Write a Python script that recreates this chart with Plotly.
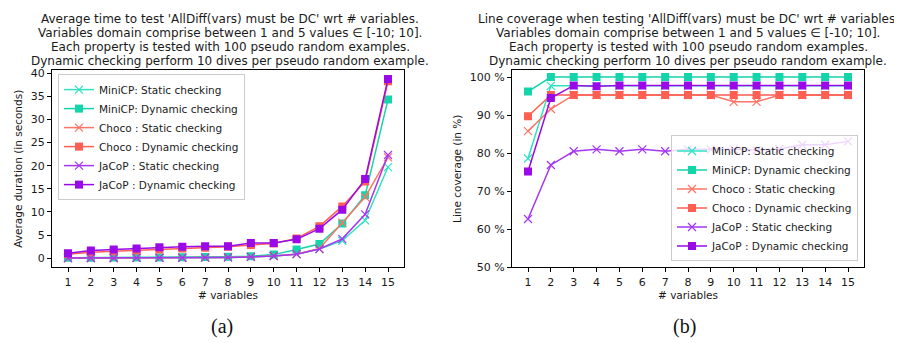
import plotly.graph_objects as go

n_vars = list(range(1, 16))

# (a) Average duration (seconds)
dur_minicp_static = [0.05, 0.06, 0.07, 0.08, 0.1, 0.12, 0.15, 0.2, 0.3, 0.5, 0.9, 2.0, 3.8, 8.2, 19.7]
dur_minicp_dynamic = [0.1, 0.12, 0.15, 0.18, 0.2, 0.25, 0.3, 0.35, 0.45, 0.8, 1.9, 3.1, 7.5, 13.6, 34.3]
dur_choco_static = [0.05, 0.06, 0.07, 0.08, 0.1, 0.12, 0.15, 0.2, 0.3, 0.5, 0.9, 2.1, 7.7, 13.2, 21.8]
dur_choco_dynamic = [0.9, 1.3, 1.5, 1.7, 1.9, 2.1, 2.3, 2.5, 2.9, 3.2, 4.3, 6.9, 11.2, 16.6, 38.2]
dur_jacop_static = [0.05, 0.06, 0.07, 0.08, 0.1, 0.12, 0.15, 0.2, 0.3, 0.5, 0.9, 2.0, 4.2, 9.5, 22.3]
dur_jacop_dynamic = [1.1, 1.7, 1.9, 2.1, 2.4, 2.5, 2.6, 2.6, 3.3, 3.3, 4.1, 6.4, 10.5, 17.1, 38.7]

# (b) Line coverage (%)
cov_minicp_static = [78.6, 97.7, 97.7, 97.7, 97.7, 97.7, 97.7, 97.7, 97.7, 97.7, 97.7, 97.7, 97.7, 97.7, 97.7]
cov_minicp_dynamic = [96.2, 100, 100, 100, 100, 100, 100, 100, 100, 100, 100, 100, 100, 100, 100]
cov_choco_static = [85.8, 91.6, 95.3, 95.3, 95.3, 95.3, 95.3, 95.3, 95.3, 93.5, 93.5, 95.3, 95.3, 95.3, 95.3]
cov_choco_dynamic = [89.7, 95.3, 95.3, 95.3, 95.3, 95.3, 95.3, 95.3, 95.3, 95.3, 95.3, 95.3, 95.3, 95.3, 95.3]
cov_jacop_static = [62.7, 76.9, 80.5, 81.0, 80.5, 81.0, 80.5, 81.0, 81.0, 81.0, 80.8, 81.1, 82.2, 82.2, 83.1]
cov_jacop_dynamic = [75.2, 94.5, 97.8, 97.6, 97.8, 97.8, 97.8, 97.8, 97.8, 97.8, 97.8, 97.8, 97.8, 97.8, 97.8]

# tick labels
dur_ticks = [0, 5, 10, 15, 20, 25, 30, 35, 40]
cov_ticks = [50, 60, 70, 80, 90, 100]
cov_ticklabels = ["50 %", "60 %", "70 %", "80 %", "90 %", "100 %"]

names = ["MiniCP: Static checking", "MiniCP: Dynamic checking",
         "Choco : Static checking", "Choco : Dynamic checking",
         "JaCoP : Static checking", "JaCoP : Dynamic checking"]
colors = ["#2EE3C4", "#14D4AA", "#FF7466", "#FF5E52", "#A536F2", "#9A0AE8"]
symbols = ["x-thin", "square", "x-thin", "square", "x-thin", "square"]

dur_series = [dur_minicp_static, dur_minicp_dynamic, dur_choco_static,
              dur_choco_dynamic, dur_jacop_static, dur_jacop_dynamic]
cov_series = [cov_minicp_static, cov_minicp_dynamic, cov_choco_static,
              cov_choco_dynamic, cov_jacop_static, cov_jacop_dynamic]

W, H = 902, 343
FONT = "DejaVu Sans"
TXT = "#1a1a1a"

fig = go.Figure()

def marker(i):
    if symbols[i] == "square":
        return dict(symbol="square", size=8, color=colors[i], line=dict(width=0))
    return dict(symbol="x-thin", size=8, color=colors[i], line=dict(width=1.2, color=colors[i]))

for i in range(6):
    fig.add_trace(go.Scatter(x=n_vars, y=dur_series[i], mode="lines+markers", name=names[i],
                             line=dict(color=colors[i], width=1.5), marker=marker(i),
                             xaxis="x", yaxis="y", legend="legend"))
for i in range(6):
    fig.add_trace(go.Scatter(x=n_vars, y=cov_series[i], mode="lines+markers", name=names[i],
                             line=dict(color=colors[i], width=1.5), marker=marker(i),
                             xaxis="x2", yaxis="y2", legend="legend2"))

def px_x(p):
    return p / W

def px_y(p):
    return 1 - p / H

axis_common = dict(showline=True, mirror=True, linecolor="black", linewidth=1,
                   ticks="outside", ticklen=4, tickcolor="black", tickwidth=1,
                   showgrid=False, zeroline=False,
                   tickfont=dict(family=FONT, size=11, color=TXT))

ydom = [px_y(264), px_y(61)]
lab_font = dict(family=FONT, size=10.5, color=TXT)

fig.update_layout(
    width=W, height=H, margin=dict(l=0, r=0, t=0, b=0),
    paper_bgcolor="white", plot_bgcolor="white",
    font=dict(family=FONT, color=TXT),
    xaxis=dict(domain=[px_x(44), px_x(396)], range=[0.3, 15.7], tickvals=n_vars, anchor="y",
               title=dict(text="# variables", font=lab_font, standoff=4),
               **axis_common),
    yaxis=dict(domain=ydom, range=[-1.94, 40.6], tickvals=dur_ticks, anchor="x",
               title=dict(text="Average duration (in seconds)", font=lab_font, standoff=6),
               **axis_common),
    xaxis2=dict(domain=[px_x(504), px_x(856)], range=[0.3, 15.7], tickvals=n_vars, anchor="y2",
                title=dict(text="# variables", font=lab_font, standoff=4),
                **axis_common),
    yaxis2=dict(domain=ydom, range=[50, 101.8], tickmode="array", tickvals=cov_ticks,
                ticktext=cov_ticklabels, anchor="x2",
                title=dict(text="Line coverage (in %)", font=lab_font, standoff=6),
                **axis_common),
    legend=dict(x=px_x(50), y=px_y(65), xanchor="left", yanchor="top",
                bgcolor="rgba(255,255,255,0.8)", bordercolor="#cccccc", borderwidth=1,
                font=dict(family=FONT, size=10.5, color=TXT), tracegroupgap=0),
    legend2=dict(x=px_x(850), y=px_y(258), xanchor="right", yanchor="bottom",
                 bgcolor="rgba(255,255,255,0.8)", bordercolor="#cccccc", borderwidth=1,
                 font=dict(family=FONT, size=10.5, color=TXT), tracegroupgap=0),
    showlegend=True,
)

titles_a = ["Average time to test 'AllDiff(vars) must be DC' wrt # variables.",
            "Variables domain comprise between 1 and 5 values \u2208 [-10; 10].",
            "Each property is tested with 100 pseudo random examples.",
            "Dynamic checking perform 10 dives per pseudo random example."]
titles_b = ["Line coverage when testing 'AllDiff(vars) must be DC' wrt # variables.",
            "Variables domain comprise between 1 and 5 values \u2208 [-10; 10].",
            "Each property is tested with 100 pseudo random examples.",
            "Dynamic checking perform 10 dives per pseudo random example."]
line_y = [8, 22.5, 37, 51.5]
for cx, lines in [(222, titles_a), (680, titles_b)]:
    for ly, txt in zip(line_y, lines):
        fig.add_annotation(x=px_x(cx), y=px_y(ly), xref="paper", yref="paper", text=txt,
                           showarrow=False, xanchor="center", yanchor="middle",
                           font=dict(family=FONT, size=12, color=TXT))

for cx, lab in [(214, "(a)"), (676, "(b)")]:
    fig.add_annotation(x=px_x(cx), y=px_y(325), xref="paper", yref="paper", text=lab,
                       showarrow=False, xanchor="center", yanchor="middle",
                       font=dict(family="Liberation Serif", size=20, color="#111"))

fig.write_html("out.html")
